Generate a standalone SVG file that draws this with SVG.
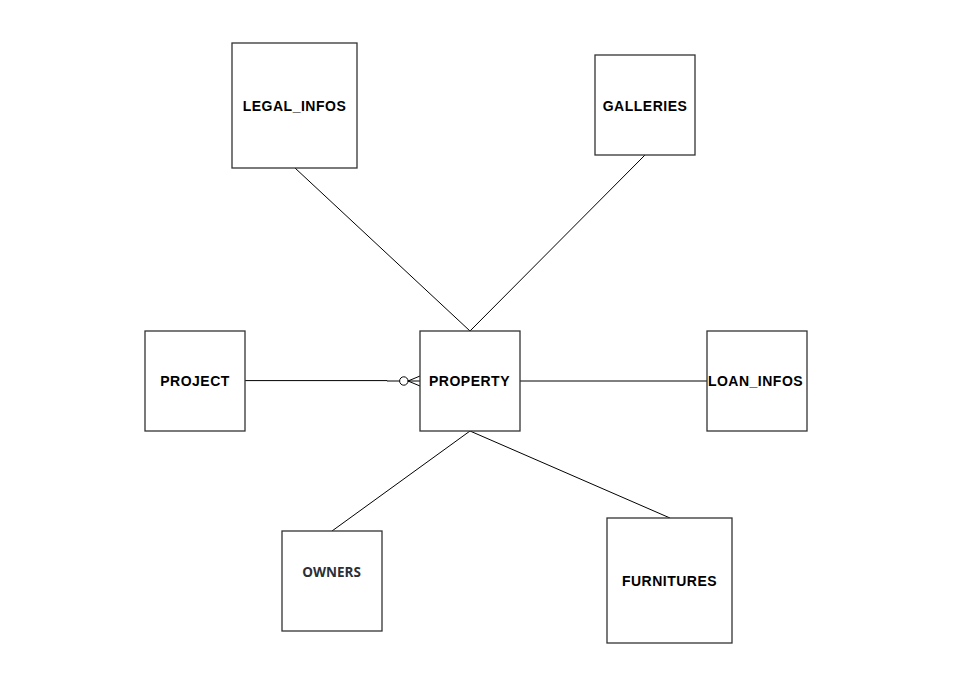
<svg xmlns="http://www.w3.org/2000/svg" width="970" height="692" viewBox="0 0 970 692">
  <style>
    .box { fill: #ffffff; stroke: #333333; stroke-width: 1.3; }
    .lbl { font-family: "Liberation Sans", Arial, sans-serif; font-size: 14px; font-weight: bold; fill: #000000; text-anchor: middle; letter-spacing: 0.5px; }
    .lbl-alt { font-family: "Open Sans", "Noto Sans", sans-serif; font-size: 13.5px; font-weight: 700; fill: #2b2f36; text-anchor: middle; }
    .edge { fill: none; stroke: #000000; stroke-width: 1; }
  </style>
  <rect width="970" height="692" fill="#ffffff"/>

  <!-- relationships -->
  <g id="connectors">
    <line class="edge" x1="295" y1="168" x2="470" y2="331"/>
    <line class="edge" x1="645" y1="155" x2="470" y2="331"/>
    <line class="edge" x1="520" y1="381" x2="707" y2="381"/>
    <line class="edge" x1="470" y1="431" x2="332" y2="531"/>
    <line class="edge" x1="470" y1="431" x2="670" y2="518"/>
    <!-- PROJECT to PROPERTY: zero-or-many -->
    <path class="edge" d="M245 380.6 H387 V381 H399.5"/>
    <circle class="edge" cx="403.8" cy="381" r="4.2" fill="#ffffff"/>
    <path class="edge" d="M408 381 H420 M408 381 L420 376 M408 381 L420 386"/>
  </g>

  <g id="legal_infos">
    <rect class="box" x="232" y="43" width="125" height="125"/>
    <text class="lbl" x="294.5" y="110.5">LEGAL_INFOS</text>
  </g>
  <g id="galleries">
    <rect class="box" x="595" y="55" width="100" height="100"/>
    <text class="lbl" x="645" y="110.5">GALLERIES</text>
  </g>
  <g id="project">
    <rect class="box" x="145" y="331" width="100" height="100"/>
    <text class="lbl" x="195" y="386">PROJECT</text>
  </g>
  <g id="property">
    <rect class="box" x="420" y="331" width="100" height="100"/>
    <text class="lbl" x="469.5" y="386">PROPERTY</text>
  </g>
  <g id="loan_infos">
    <rect class="box" x="707" y="331" width="100" height="100"/>
    <text class="lbl" x="755.5" y="386">LOAN_INFOS</text>
  </g>
  <g id="owners">
    <rect class="box" x="282" y="531" width="100" height="100"/>
    <text class="lbl-alt" x="331.5" y="577">OWNERS</text>
  </g>
  <g id="furnitures">
    <rect class="box" x="607" y="518" width="125" height="125"/>
    <text class="lbl" x="669.5" y="585.5">FURNITURES</text>
  </g>
</svg>
